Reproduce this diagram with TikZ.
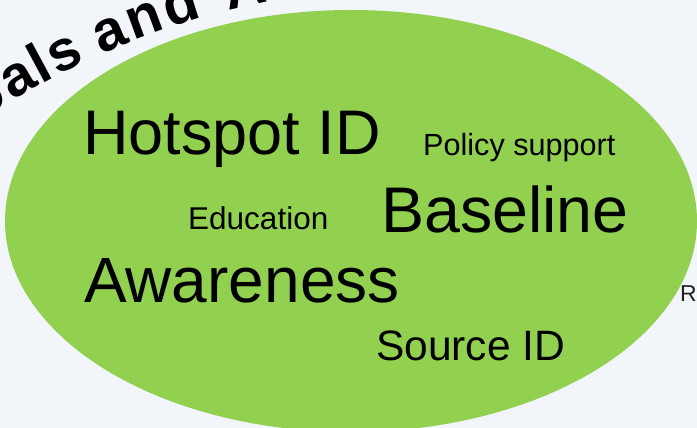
\documentclass[tikz,border=0pt]{standalone}
\usepackage{fontspec}
\setmainfont{Liberation Sans}
\usetikzlibrary{calc}
\definecolor{bgcol}{HTML}{F2F5FA}
\definecolor{leaf}{HTML}{92D050}
\definecolor{rgray}{HTML}{222222}
\tikzset{
  word/.style={anchor=base west, inner sep=0pt, text=black},
  arcletter/.style={anchor=base, inner sep=0pt, text=black,
    font=\fontsize{57}{57}\selectfont\bfseries},
}
\newcommand{\fs}[1]{\fontsize{#1}{#1}\selectfont}
\begin{document}
\begin{tikzpicture}[x=1pt,y=1pt]
\useasboundingbox (0,0) rectangle (697,428);
\clip (0,0) rectangle (697,428);
\fill[bgcol] (0,0) rectangle (697,428);
% main ellipse
\fill[leaf] (351,207) ellipse [x radius=346pt, y radius=211pt];
% curved title fragment
\coordinate (C) at (418,-337);
\foreach \ch/\ang [count=\i] in {o/122.9, a/120.2, l/118.35, s/116.45, a/112.85, n/110.15, d/107.35, A/102.6}{
  \pgfmathsetmacro{\rot}{\ang-90}
  \node[arcletter, rotate=\rot] (t\i) at ($(C)+(\ang:778)$) {\ch};
}
% words
\node[word, font=\fs{63}] (hot) at (83,273) {Hotspot ID};
\node[word, font=\fs{30.6}] (pol) at (423,272) {Policy support};
\node[word, font=\fs{31.5}] (edu) at (188,198) {Education};
\node[word, font=\fs{64.5}] (base) at (381,195) {Baseline};
\node[word, font=\fs{64}] (awa) at (84,125) {Awareness};
\node[word, font=\fs{42.5}] (src) at (376,67) {Source ID};
\node[word, font=\fs{23}, text=rgray] (r) at (680,126) {R};
\end{tikzpicture}
\end{document}
